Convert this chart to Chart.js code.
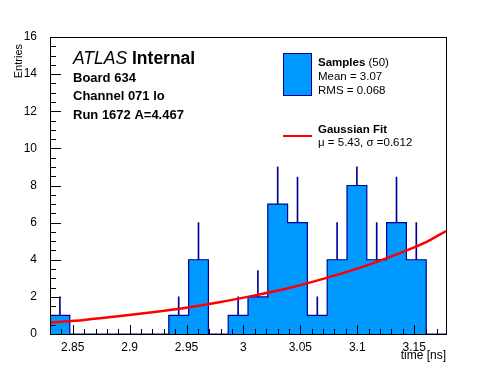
<!DOCTYPE html>
<html>
<head>
<meta charset="utf-8">
<script src="https://cdn.jsdelivr.net/npm/chart.js@4"></script>
<style>
  body { margin: 0; background: #fff; }
  canvas { display: block; }
</style>
</head>
<body>
<canvas id="timeChart" width="496" height="372"></canvas>
<script>
// histogram range (ns) and bin contents
let xMin = 2.83
let xMax = 3.178
let counts = [1, 0, 0, 0, 0, 0, 1, 4, 0, 1, 2, 7, 6, 1, 4, 8, 4, 6, 4, 0]
let errTop = [2, 0, 0, 0, 0, 0, 2, 6, 0, 2, 3.41, 9, 8.45, 2, 6, 9, 6, 8.45, 6, 0]

// gaussian fit curve
let fitX = [2.83, 2.86, 2.89, 2.92, 2.95, 2.98, 3.01, 3.04, 3.07, 3.10, 3.13, 3.16, 3.178]
let fitY = [0.61, 0.76, 0.95, 1.17, 1.42, 1.72, 2.08, 2.48, 2.97, 3.52, 4.18, 4.93, 5.55]

let xTicks = [2.85, 2.9, 2.95, 3, 3.05, 3.1, 3.15]
let yTicks = [0, 2, 4, 6, 8, 10, 12, 14, 16]

const FONT = '"Liberation Sans", Arial, Helvetica, sans-serif'
const FILL = 'rgb(0, 153, 255)'
const LINE = '#000099'

let binW = (xMax - xMin) / counts.length
let edges = counts.map((c, i) => xMin + i * binW).concat([xMax])

// step outline of the histogram
let histPts = [{x: edges[0], y: 0}]
counts.forEach((c, i) => histPts.push({x: edges[i], y: c}))
histPts.push({x: edges[counts.length], y: 0})

// upper error bars
let errPts = []
counts.forEach((c, i) => {
    if (c > 0) errPts.push({x: edges[i] + binW / 2, y: [c, errTop[i]]})
})

let fitPts = fitX.map((x, i) => ({x: x, y: fitY[i]}))

// ROOT style frame, inner ticks and the text boxes
const rootFrame = {
    id: 'rootFrame',
    afterDraw(chart) {
        const ctx = chart.ctx
        const xs = chart.scales.x
        const ys = chart.scales.y
        const L = Math.round(xs.getPixelForValue(xMin))
        const R = Math.round(xs.getPixelForValue(xMax))
        const T = Math.round(ys.getPixelForValue(16))
        const B = Math.round(ys.getPixelForValue(0))
        ctx.save()
        ctx.fillStyle = '#000'
        ctx.fillRect(L, T, R - L, 1)
        ctx.fillRect(L, B, R - L + 1, 1)
        ctx.fillRect(L, T, 1, B - T)
        ctx.fillRect(R, T, 1, B - T)
        // x ticks every 0.01, major every 0.05
        for (let k = 283; k <= 317; k++) {
            let px = Math.round(xs.getPixelForValue(k / 100))
            let len = (k % 5 === 0) ? 9 : 5
            ctx.fillRect(px, B - len, 1, len)
        }
        // y ticks every 0.5, major every 2
        for (let k = 0; k <= 32; k++) {
            let py = Math.round(ys.getPixelForValue(k / 2))
            let len = (k % 4 === 0) ? 11 : 6
            ctx.fillRect(L, py, len, 1)
        }

        // axis titles
        ctx.font = '12px ' + FONT
        ctx.textAlign = 'right'
        ctx.fillText('time [ns]', R, 359)
        ctx.save()
        ctx.translate(22, 44)
        ctx.rotate(-Math.PI / 2)
        ctx.font = '11px ' + FONT
        ctx.fillText('Entries', 0, 0)
        ctx.restore()

        // labels
        ctx.textAlign = 'left'
        ctx.font = 'italic 17.5px ' + FONT
        ctx.fillText('ATLAS', 73, 64)
        let w = ctx.measureText('ATLAS ').width
        ctx.font = 'bold 17.5px ' + FONT
        ctx.fillText('Internal', 73 + w, 64)
        ctx.font = 'bold 13px ' + FONT
        ctx.fillText('Board 634', 73, 82)
        ctx.fillText('Channel 071 lo', 73, 100)
        ctx.fillText('Run 1672 A=4.467', 73, 119)

        // legend
        ctx.fillStyle = FILL
        ctx.fillRect(283, 53, 29, 43)
        ctx.strokeStyle = LINE
        ctx.lineWidth = 1
        ctx.strokeRect(283.5, 53.5, 28, 42)
        ctx.fillStyle = 'red'
        ctx.fillRect(283, 135, 29, 2)

        ctx.fillStyle = '#000'
        ctx.font = 'bold 11.5px ' + FONT
        ctx.fillText('Samples', 318, 66)
        w = ctx.measureText('Samples').width
        ctx.font = '11.5px ' + FONT
        ctx.fillText(' (50)', 318 + w, 66)
        ctx.fillText('Mean = 3.07', 318, 80)
        ctx.fillText('RMS = 0.068', 318, 94)
        ctx.font = 'bold 11.5px ' + FONT
        ctx.fillText('Gaussian Fit', 318, 133)
        ctx.font = '11.5px ' + FONT
        ctx.fillText('\u03bc = 5.43, \u03c3 =0.612', 318, 146)
        ctx.restore()
    }
}

function timeChart() {
    const ctx = document.getElementById(`timeChart`)

    new Chart(ctx, {
        type: `line`,
        data: {
            datasets: [{
                label: `Gaussian Fit`,
                data: fitPts,
                borderColor: `red`,
                borderWidth: 2.5,
                pointRadius: 0,
                cubicInterpolationMode: `monotone`,
                order: 0
            }, {
                label: `Samples`,
                data: histPts,
                stepped: `before`,
                borderColor: LINE,
                borderWidth: 1.2,
                backgroundColor: FILL,
                fill: `origin`,
                pointRadius: 0,
                order: 1
            }, {
                type: `bar`,
                label: `errors`,
                data: errPts,
                backgroundColor: LINE,
                barThickness: 1,
                order: 2
            }]
        },
        options: {
            responsive: false,
            animation: false,
            devicePixelRatio: 1,
            layout: { padding: { top: 37, right: 50, left: 0, bottom: 0 } },
            plugins: {
                legend: { display: false },
                tooltip: { enabled: false }
            },
            scales: {
                x: {
                    type: `linear`,
                    min: xMin,
                    max: xMax,
                    offset: false,
                    grid: { display: false, offset: false },
                    border: { display: false },
                    afterBuildTicks: (s) => { s.ticks = xTicks.map(v => ({value: v})) },
                    afterFit: (s) => { s.height = 38 },
                    ticks: {
                        padding: -2,
                        maxRotation: 0,
                        color: `#000`,
                        font: { family: FONT, size: 12 },
                        callback: (v) => String(+v.toFixed(2))
                    }
                },
                y: {
                    min: 0,
                    max: 16,
                    grid: { display: false },
                    border: { display: false },
                    afterBuildTicks: (s) => { s.ticks = yTicks.map(v => ({value: v})) },
                    afterFit: (s) => { s.width = 50 },
                    ticks: {
                        padding: 5,
                        color: `#000`,
                        font: { family: FONT, size: 12 }
                    }
                }
            }
        },
        plugins: [rootFrame]
    })
}

timeChart()
</script>
</body>
</html>
